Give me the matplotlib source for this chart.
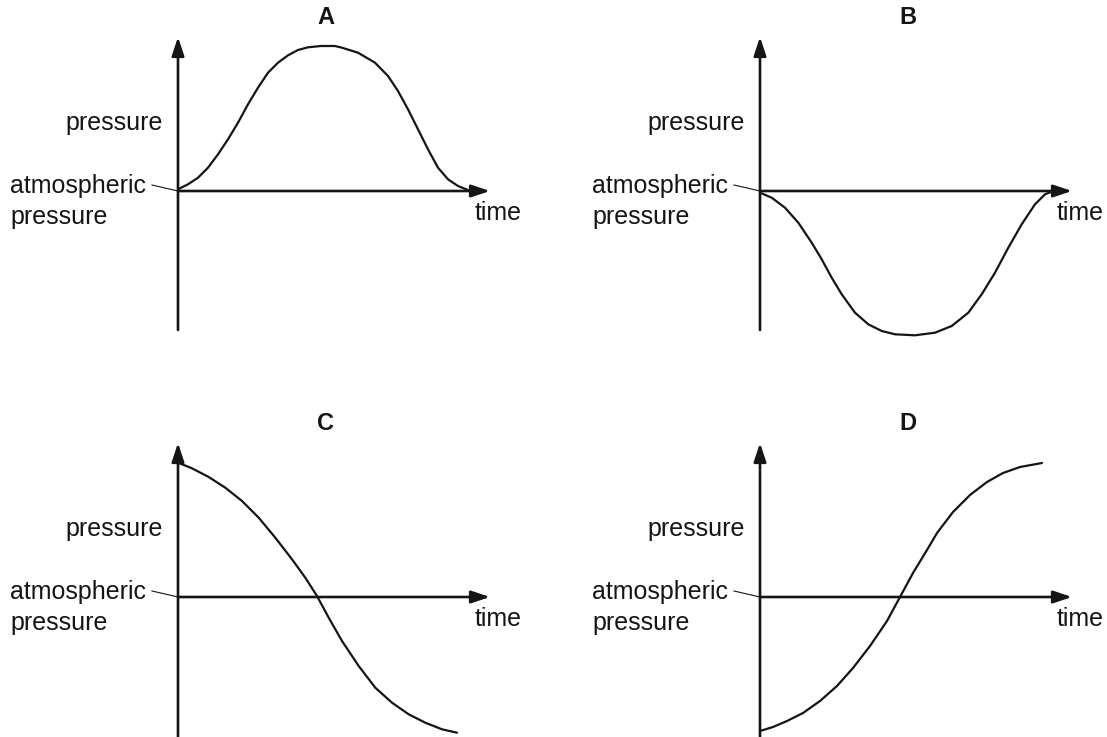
import matplotlib.pyplot as plt

# ── Data (in pixel units from each origin) ────────────────────────────────────

panel_labels = ["A", "B", "C", "D"]

a_time = [0, 10, 20, 30, 40, 50, 60, 70, 80, 90, 100, 110, 120, 130, 143, 157,
          164, 180, 197, 210, 220, 230, 240, 250, 260, 270, 280, 290]
a_pressure = [1.7, 6.7, 13.3, 23.3, 36.7, 51.7, 68.3, 86.7, 103.3, 118.3, 128.3, 135.7, 141, 143.7, 145, 145,
              143.3, 138.3, 128.3, 115, 100, 81.7, 61.7, 41.7, 23.3, 11.7, 5, 1]

b_time = [0, 11.7, 25, 38.3, 51.7, 61.7, 71.7, 81.7, 95, 108.3, 121.7, 135, 155,
          175, 191.7, 208.3, 221.7, 235, 248.3, 261.7, 275, 285, 291.7]
b_pressure = [-1.7, -6.7, -16.7, -31.7, -51.7, -68.3, -86.7, -103.3, -121.7, -133.3, -140, -143.3, -144.3,
              -141.7, -135, -121.7, -103.3, -81.7, -56.7, -33.3, -13.3, -3.3, -0.7]

c_time = [0, 14, 30.7, 47.3, 64, 80.7, 97.3, 114, 127.3, 139, 150.7, 164, 180.7,
          197.3, 214, 230.7, 247.3, 264, 279]
c_pressure = [134.3, 128.7, 120, 109.3, 96, 79.3, 59.3, 37.7, 19.3, 1, -20.7, -44, -69,
              -90.7, -105.7, -117.3, -125.7, -132.3, -135.7]

d_time = [0, 13, 27, 43, 60, 77, 93, 110, 127, 140, 153, 167, 177, 193, 210, 227, 243, 260, 282]
d_pressure = [-134, -130, -124, -116, -104, -89, -71, -49, -24, 0, 24, 47, 64, 85, 102, 115, 124, 130, 134]

curves = {
    "A": (a_time, a_pressure),
    "B": (b_time, b_pressure),
    "C": (c_time, c_pressure),
    "D": (d_time, d_pressure),
}

# ── Layout (image pixels of each panel's origin) ──────────────────────────────

W, H = 1107, 737
origins = {"A": (178, 191), "B": (760, 191), "C": (178, 597), "D": (760, 597)}
y_bottom = {"A": -139, "B": -139, "C": -140, "D": -140}
y_top = 154
x_tip = 312

ink = "#151515"
font = ["Liberation Sans", "DejaVu Sans"]
arrow = dict(arrowstyle="-|>,head_length=0.75,head_width=0.25", lw=1.9,
             color=ink, mutation_scale=15, shrinkA=0, shrinkB=0)

fig = plt.figure(figsize=(W / 100, H / 100), dpi=100)

for name in panel_labels:
    x0, y0 = origins[name]
    # full-figure transparent axes, 1 data unit = 1 pixel, origin at the panel axes
    ax = fig.add_axes([0, 0, 1, 1])
    ax.set_xlim(-x0, W - x0)
    ax.set_ylim(y0 - H, y0)
    ax.axis("off")
    ax.patch.set_alpha(0)

    # axes with arrows
    ax.annotate("", xy=(0, y_top), xytext=(0, y_bottom[name]), arrowprops=arrow)
    ax.annotate("", xy=(x_tip, 0), xytext=(0, 0), arrowprops=arrow)

    t, p = curves[name]
    ax.plot(t, p, color=ink, lw=1.6, solid_capstyle="round", solid_joinstyle="round")

    # labels
    ax.text(148, 173, name, ha="center", va="center", fontsize=17,
            fontweight="bold", family=font, color=ink)
    ax.text(-15, 68, "pressure", ha="right", va="center", fontsize=18,
            family=font, color=ink)
    ax.text(-168, 5, "atmospheric", ha="left", va="center", fontsize=18,
            family=font, color=ink)
    ax.text(-168, -26, "pressure", ha="left", va="center", fontsize=18,
            family=font, color=ink)
    ax.plot([-26, 0], [6, 0], color=ink, lw=0.8)
    ax.text(297, -22, "time", ha="left", va="center", fontsize=18,
            family=font, color=ink)

fig.savefig("out.png", dpi=100, facecolor="white")
